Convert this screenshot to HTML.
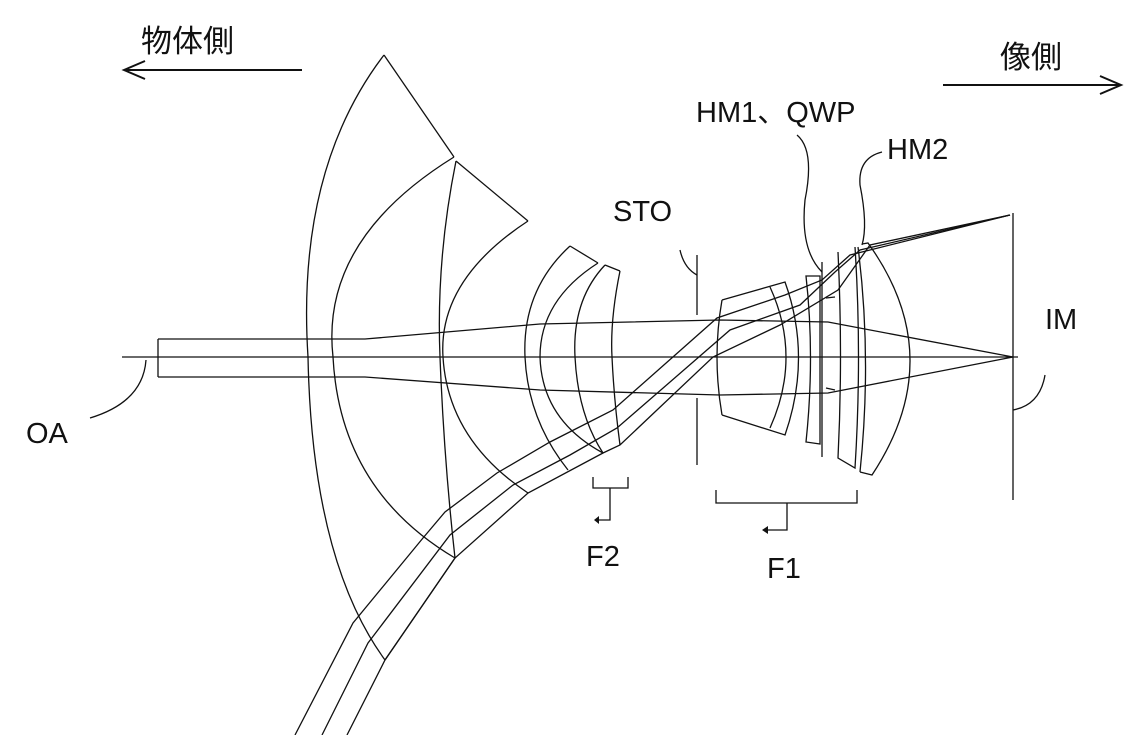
<!DOCTYPE html>
<html><head><meta charset="utf-8"><style>
html,body{margin:0;padding:0;background:#fff;}
svg{display:block;}
text{font-family:"Liberation Sans","Noto Sans CJK JP",sans-serif;fill:#111;}
</style></head><body>
<svg width="1145" height="735" viewBox="0 0 1145 735" xmlns="http://www.w3.org/2000/svg">
<g fill="none" stroke="#111" stroke-width="1.3">
<line x1="122" y1="357" x2="1018" y2="357"/>
<path d="M158,339 L158,377"/>
<path d="M158,339 L365,339 L540,324 L720,320 L828,322 L1013,357"/>
<path d="M158,377 L365,377 L540,390 L720,395 L828,393 L1013,357"/>
<path d="M295,735 L353,623 L423,538 L445,512 L497,473 L550,442 L613,410 L717,318 L785,295 L822,280 L850,255 L1010,215"/>
<path d="M322,735 L368,643 L450,535 L513,485 L570,455 L617,428 L730,330 L800,305 L835,272 L860,250 L1010,215"/>
<path d="M347,735 L385,660 L455,558 L528,493 L603,453 L620,445 L713,357 L780,325 L838,290 L870,245 L1010,215"/>
<path d="M384,55 Q296,170 308,357 Q312,560 385,660"/>
<path d="M384,55 L454,157"/>
<path d="M454,157 Q320,240 333,357 Q340,490 455,558"/>
<path d="M385,660 L455,558"/>
<path d="M456,161 L528,221"/>
<path d="M456,161 Q436,260 440,357 Q444,460 455,558"/>
<path d="M528,221 Q438,280 443,357 Q448,440 528,493"/>
<path d="M570,246 L598,263"/>
<path d="M570,246 Q522,290 525,357 Q528,420 568,470"/>
<path d="M598,263 Q540,300 540,357 Q542,420 603,453"/>
<path d="M605,265 L620,271"/>
<path d="M605,265 Q572,300 575,357 Q578,415 603,453"/>
<path d="M620,271 Q610,320 612,357 Q614,400 620,445"/>
<path d="M697,255 L697,315 M697,398 L697,465"/>
<path d="M680,250 Q684,268 697,275"/>
<path d="M722,300 Q712,357 722,415"/>
<path d="M722,300 L785,282 Q812,357 785,435 L722,415"/>
<path d="M770,287 Q802,357 770,428"/>
<path d="M806,276 Q815,357 806,442 L820,444 L820,276 Z"/>
<path d="M822,262 L822,457"/>
<path d="M838,252 Q843,357 838,458 L855,468 Q862,357 855,247"/>
<path d="M858,247 Q872,357 860,472"/>
<path d="M862,244 L868,243 Q950,357 872,475 L860,472"/>
<path d="M826,298 L835,297 M826,388 L835,390"/>
<path d="M1013,213 L1013,500"/>
<path d="M1013,410 Q1040,405 1045,375"/>
<path d="M90,418 Q143,402 146,360"/>
<path d="M797,135 Q815,150 805,200 Q800,250 822,272"/>
<path d="M882,152 Q858,158 860,185 Q868,225 862,245"/>
<path d="M593,477 L593,488 L628,488 L628,477 M610,488 L610,520 L598,520"/>
<path d="M716,490 L716,503 L857,503 L857,490 M787,503 L787,530 L765,530"/>
<path d="M302,70 L124,70 M145,61 L124,70 L145,79" stroke-width="2"/>
<path d="M943,85 L1121,85 M1100,76 L1121,85 L1100,94" stroke-width="2"/>
</g>
<g fill="#111">
<path d="M595,516 L600,520 L595,524 Z" transform="rotate(180 597 520)"/>
<path d="M762,526 L768,530 L762,534 Z" transform="rotate(180 765 530)"/>
</g>
<text x="141" y="52" font-size="31">物体側</text>
<text x="1000" y="68" font-size="31">像側</text>
<text x="696" y="122" font-size="29">HM1、QWP</text>
<text x="887" y="159" font-size="29">HM2</text>
<text x="613" y="221" font-size="29">STO</text>
<text x="1045" y="329" font-size="29">IM</text>
<text x="26" y="443" font-size="29">OA</text>
<text x="586" y="566" font-size="29">F2</text>
<text x="767" y="578" font-size="29">F1</text>
</svg>
</body></html>
